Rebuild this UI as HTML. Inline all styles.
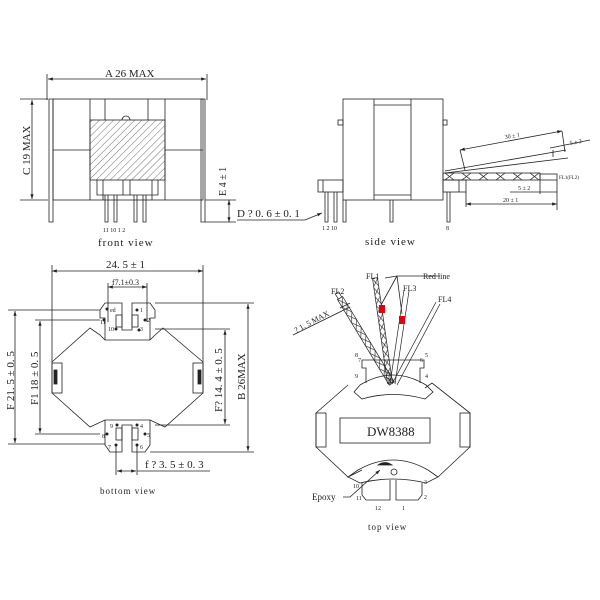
<!DOCTYPE html>
<html><head><style>body{margin:0;background:#fff}svg{display:block}text{font-family:"Liberation Serif",serif;fill:#222}</style></head><body>
<svg width="600" height="600" viewBox="0 0 600 600" stroke="#222" fill="none" stroke-width="0.8">
<defs><pattern id="h" width="5" height="5" patternUnits="userSpaceOnUse" patternTransform="rotate(45)"><line x1="0" y1="0" x2="0" y2="5" stroke="#333" stroke-width="0.7"/></pattern>
<pattern id="br" width="9" height="6" patternUnits="userSpaceOnUse" y="-3"><path d="M0,0 L9,6 M0,6 L9,0" stroke="#222" stroke-width="0.6"/></pattern>
<pattern id="br2" width="17" height="7" patternUnits="userSpaceOnUse" x="445" y="173"><path d="M0,0 L9,7 M0,7 L9,0" stroke="#222" stroke-width="0.7"/></pattern>
<marker id="a" markerWidth="6" markerHeight="6" refX="6" refY="3" orient="auto-start-reverse"><path d="M0,1 L6,3 L0,5z" fill="#222" stroke="none"/></marker></defs>
<!-- FRONT VIEW -->
<line x1="48" y1="79" x2="206" y2="79" marker-start="url(#a)" marker-end="url(#a)"/>
<line x1="47" y1="74" x2="47" y2="100"/><line x1="207" y1="74" x2="207" y2="100"/>
<text x="105" y="77" font-size="11" stroke="none">A 26 MAX</text>
<rect x="53" y="99" width="150" height="101"/>
<path d="M49,99 L53,99 L53,222 L49,222z M201,99 L205,99 L205,222 L201,222z"/>
<line x1="90" y1="99" x2="90" y2="200"/><line x1="165" y1="99" x2="165" y2="200"/>
<line x1="105" y1="99" x2="105" y2="120"/><line x1="148" y1="99" x2="148" y2="120"/>
<line x1="53" y1="150" x2="90" y2="150"/><line x1="165" y1="150" x2="203" y2="150"/>
<rect x="90" y="120" width="75" height="60" fill="url(#h)"/>
<path d="M122,120 a4,4 0 0 1 8,0"/>
<path d="M97,180 L97,195 L158,195 L158,180 M103,180 L103,200 M152,180 L152,200 M123,180 L123,195 M130,180 L130,195"/>
<path d="M105,195 v27 h3 v-27 M114,195 v27 h3 v-27 M134,195 v27 h3 v-27 M143,195 v27 h3 v-27"/>
<text x="103" y="232" font-size="6" stroke="none">11 10  1  2</text>
<text x="98" y="246" font-size="11" stroke="none" letter-spacing="1">front view</text>
<line x1="20" y1="99" x2="48" y2="99"/><line x1="20" y1="200" x2="48" y2="200"/>
<line x1="32" y1="100" x2="32" y2="199" marker-start="url(#a)" marker-end="url(#a)"/>
<text x="0" y="0" font-size="11" stroke="none" transform="translate(30,175) rotate(-90)">C 19 MAX</text>
<line x1="205" y1="200" x2="236" y2="200"/><line x1="205" y1="222" x2="236" y2="222"/>
<line x1="229" y1="200" x2="229" y2="222" marker-start="url(#a)" marker-end="url(#a)"/>
<text x="0" y="0" font-size="10" stroke="none" transform="translate(226,196) rotate(-90)">E 4 ± 1</text>
<text x="237" y="217" font-size="11" stroke="none">D ? 0. 6 ± 0. 1</text>
<line x1="237" y1="220" x2="305" y2="220"/>
<line x1="305" y1="220" x2="322" y2="213" marker-end="url(#a)"/>
<!-- SIDE VIEW -->
<rect x="343" y="99" width="100" height="101"/>
<line x1="374" y1="99" x2="374" y2="200"/><line x1="411" y1="99" x2="411" y2="200"/>
<line x1="374" y1="105" x2="411" y2="105"/><line x1="374" y1="195" x2="411" y2="195"/>
<rect x="338" y="120" width="5" height="5"/><rect x="443" y="120" width="4" height="5"/>
<rect x="318" y="180" width="25" height="12"/><line x1="323" y1="180" x2="323" y2="192"/>
<rect x="443" y="180" width="23" height="12"/><line x1="459" y1="180" x2="459" y2="192"/>
<path d="M325,192 v30 h3 v-30 M334,192 v30 h3 v-30 M343,200 v22 h3 v-22 M390,200 v22 h3 v-22 M447,192 v30 h3 v-30"/>
<text x="322" y="230" font-size="6" stroke="none">1  2 10</text><text x="446" y="230" font-size="6" stroke="none">8</text>
<text x="365" y="245" font-size="11" stroke="none" letter-spacing="1">side view</text>
<rect x="443" y="173" width="97" height="7" fill="url(#br2)"/><rect x="540" y="174" width="17" height="6"/>
<path d="M445,173 L568,158 M445,171 L566,150"/>
<line x1="553" y1="157" x2="553" y2="150"/>
<line x1="460" y1="150" x2="562" y2="131" marker-start="url(#a)" marker-end="url(#a)"/>
<line x1="460" y1="150" x2="465" y2="170"/><line x1="562" y1="131" x2="565" y2="152"/>
<text x="505" y="139" font-size="6" stroke="none" transform="rotate(-10 505 139)">30 ± 1</text>
<line x1="550" y1="148" x2="590" y2="140"/><text x="570" y="145" font-size="6" stroke="none" transform="rotate(-10 570 145)">5 ± 2</text>
<text x="559" y="179" font-size="5" stroke="none">FL1(FL2)</text>
<line x1="540" y1="180" x2="540" y2="194"/><line x1="557" y1="180" x2="557" y2="210"/>
<line x1="510" y1="192" x2="557" y2="192"/><text x="518" y="190" font-size="6" stroke="none">5 ± 2</text>
<line x1="466" y1="204" x2="557" y2="204" marker-start="url(#a)" marker-end="url(#a)"/>
<line x1="466" y1="192" x2="466" y2="207"/>
<text x="503" y="202" font-size="6" stroke="none">20 ± 1</text>
<!-- BOTTOM VIEW -->
<line x1="52" y1="271" x2="203" y2="271" marker-start="url(#a)" marker-end="url(#a)"/>
<line x1="52" y1="265" x2="52" y2="362"/><line x1="203" y1="265" x2="203" y2="362"/>
<text x="106" y="268" font-size="11" stroke="none">24. 5 ± 1</text>
<line x1="108" y1="287" x2="147" y2="287" marker-start="url(#a)" marker-end="url(#a)"/>
<line x1="108" y1="283" x2="108" y2="322"/><line x1="147" y1="283" x2="147" y2="322"/>
<text x="112" y="285" font-size="8" stroke="none">f7.1±0.3</text>
<path d="M52,362 L90,328 L100,335 L105,340 L150,340 L155,335 L163,328 L203,362 L203,393 L165,427 L150,420 L105,420 L90,427 L52,393 Z"/>
<path d="M105,340 L105,318 L100,318 L100,310 L105,303 L122,303 L122,330 L132,330 L132,303 L150,303 L155,310 L155,318 L150,318 L150,340"/>
<path d="M105,420 L105,445 L110,452 L122,452 L122,425 L132,425 L132,452 L145,452 L150,445 L150,420"/>
<rect x="116" y="315" width="6" height="12"/><rect x="132" y="315" width="6" height="12"/>
<rect x="116" y="428" width="6" height="12"/><rect x="132" y="428" width="6" height="12"/>
<rect x="52" y="363" width="10" height="30"/><rect x="193" y="363" width="10" height="30"/>
<rect x="54" y="370" width="3" height="14" fill="#222"/><rect x="198" y="370" width="3" height="14" fill="#222"/>
<g fill="#222" stroke="none" font-size="6"><circle cx="107" cy="309" r="1.5"/><circle cx="137" cy="310" r="1.5"/><circle cx="104" cy="320" r="1.5"/><circle cx="145" cy="320" r="1.5"/><circle cx="116" cy="329" r="1.5"/><circle cx="139" cy="330" r="1.5"/>
<circle cx="117" cy="425" r="1.5"/><circle cx="137" cy="425" r="1.5"/><circle cx="107" cy="434" r="1.5"/><circle cx="145" cy="434" r="1.5"/><circle cx="116" cy="445" r="1.5"/><circle cx="137" cy="445" r="1.5"/>
<text x="110" y="312">ed</text><text x="140" y="312">1</text><text x="100" y="324">11</text><text x="147" y="322">2</text><text x="108" y="331">10</text><text x="140" y="331">3</text>
<text x="110" y="428">9</text><text x="140" y="428">4</text><text x="102" y="438">8</text><text x="147" y="437">5</text><text x="108" y="449">7</text><text x="140" y="449">6</text></g>
<line x1="8" y1="310" x2="100" y2="310"/><line x1="8" y1="444" x2="105" y2="444"/>
<line x1="15" y1="311" x2="15" y2="443" marker-start="url(#a)" marker-end="url(#a)"/>
<text x="0" y="0" font-size="11" stroke="none" transform="translate(14,410) rotate(-90)">F 21. 5 ± 0. 5</text>
<line x1="35" y1="320" x2="100" y2="320"/><line x1="35" y1="434" x2="100" y2="434"/>
<line x1="40" y1="321" x2="40" y2="433" marker-start="url(#a)" marker-end="url(#a)"/>
<text x="0" y="0" font-size="11" stroke="none" transform="translate(38,405) rotate(-90)">F1 18 ± 0. 5</text>
<line x1="155" y1="329" x2="230" y2="329"/><line x1="155" y1="425" x2="230" y2="425"/>
<line x1="225" y1="330" x2="225" y2="424" marker-start="url(#a)" marker-end="url(#a)"/>
<text x="0" y="0" font-size="11" stroke="none" transform="translate(222,412) rotate(-90)">F? 14. 4 ± 0. 5</text>
<line x1="155" y1="303" x2="254" y2="303"/><line x1="150" y1="452" x2="254" y2="452"/>
<line x1="248" y1="304" x2="248" y2="451" marker-start="url(#a)" marker-end="url(#a)"/>
<text x="0" y="0" font-size="11" stroke="none" transform="translate(245,400) rotate(-90)">B 26MAX</text>
<line x1="116" y1="445" x2="116" y2="475"/><line x1="137" y1="445" x2="137" y2="475"/>
<line x1="117" y1="471" x2="136" y2="471" marker-start="url(#a)" marker-end="url(#a)"/>
<line x1="137" y1="471" x2="210" y2="471"/>
<text x="145" y="468" font-size="11" stroke="none">f ? 3. 5 ± 0. 3</text>
<text x="100" y="494" font-size="9" stroke="none" letter-spacing="1">bottom view</text>
<!-- TOP VIEW -->
<path d="M348,385 L316,413 L316,447 L348,477 L362,470 M438,477 L470,447 L470,413 L432,383 L425,388"/>
<path d="M360,385 Q393,365 426,385 L433,392 L425,399 Q393,390 362,399 L354,392 Z"/>
<path d="M358,470 Q393,450 428,470 L438,477 L426,483 Q393,475 360,483 L348,477 Z"/>
<path d="M366,383 L366,368 L362,368 L362,360 L424,360 L424,368 L420,368 L420,383"/>
<path d="M362,483 L362,495 L366,500 L390,500 L390,480 M396,480 L396,500 L418,500 L422,495 L422,483"/>
<rect x="340" y="418" width="90" height="25"/>
<text x="367" y="436" font-size="13" stroke="none">DW8388</text>
<rect x="316" y="413" width="10" height="34"/><rect x="460" y="413" width="10" height="34"/>
<path d="M378,465 Q385,460 392,465 Z" fill="#222"/><circle cx="394" cy="472" r="3"/>
<g stroke-width="0.7">
<g transform="translate(340,298) rotate(58.8)"><rect x="0" y="-3" width="100" height="6" fill="url(#br)"/><rect x="-6" y="-2" width="6" height="4" fill="#fff"/></g>
<g transform="translate(375,278) rotate(81.9)"><rect x="0" y="-2.5" width="106" height="5" fill="url(#br)"/></g>
<path d="M404,290 L390,384 M409,291 L395,384"/>
<path d="M436,302 L392,384 M440,304 L397,385"/>
</g>
<rect x="379" y="305" width="6" height="8" fill="#e00010" stroke="none"/>
<rect x="399" y="316" width="6" height="8" fill="#e00010" stroke="none"/>
<path d="M385,278 L397,276 L440,276 M397,276 L381,305 M397,276 L402,314" />
<g font-size="8" stroke="none"><text x="366" y="279">FL1</text><text x="331" y="294">FL2</text><text x="403" y="291">FL3</text><text x="438" y="302">FL4</text>
<text x="423" y="279" font-family="Liberation Sans" font-size="8">Red line</text>
<text x="355" y="357" font-size="6">8</text><text x="425" y="357" font-size="6">5</text><text x="355" y="378" font-size="6">9</text><text x="425" y="378" font-size="6">4</text>
<text x="358" y="362" font-size="6">7</text><text x="420" y="362" font-size="6">6</text>
<text x="353" y="488" font-size="6">10</text><text x="424" y="484" font-size="6">3</text><text x="356" y="500" font-size="6">11</text><text x="424" y="499" font-size="6">2</text>
<text x="375" y="510" font-size="6">12</text><text x="402" y="510" font-size="6">1</text>
<text x="312" y="500" font-family="Liberation Sans" font-size="9">Epoxy</text></g>
<path d="M343,497 L350,497 L380,470" marker-end="url(#a)"/>
<line x1="293" y1="335" x2="350" y2="307"/><line x1="340" y1="308" x2="350" y2="303"/>
<text x="0" y="0" font-size="8" stroke="none" transform="translate(296,333) rotate(-28)">? 1. 5 MAX</text>
<text x="368" y="530" font-size="9" stroke="none" letter-spacing="1">top view</text>
</svg>
</body></html>
